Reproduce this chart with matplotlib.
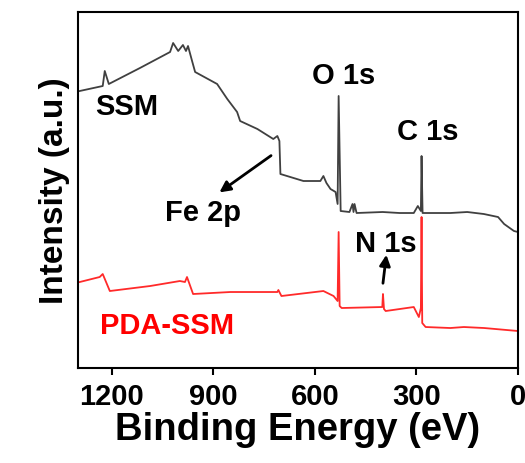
import matplotlib
matplotlib.use('Agg')
import matplotlib.pyplot as plt

plt.rcParams['font.family'] = ['Liberation Sans', 'DejaVu Sans']
plt.rcParams['font.weight'] = 'bold'

# XPS survey, SSM
e_ssm = [1295, 1227, 1221, 1209, 1117, 1028, 1019, 1004, 990, 981, 975, 963, 954,
         889, 859, 830, 821, 770, 723, 711, 705, 702, 634, 584, 575, 566, 554, 539,
         533, 530, 524, 498, 489, 486, 483, 477, 400, 350, 308, 296, 287, 285, 282,
         200, 150, 101, 59, 41, 12, 0]
i_ssm = [277, 282, 297, 284, 300, 316, 325, 317, 323, 317, 322, 307, 296,
         284, 269, 256, 247, 239, 229, 232, 227, 194, 187, 187, 192, 185, 179, 176,
         164, 272, 157, 156, 164, 156, 164, 155, 156, 155, 155, 162, 157, 212, 155,
         155, 156, 154, 151, 144, 137, 136]

# XPS survey, PDA-SSM
e_pda = [1295, 1236, 1227, 1206, 1087, 999, 984, 978, 960, 850, 711, 708, 699,
         575, 545, 533, 530, 527, 521, 401, 399, 396, 391, 308, 293, 287, 285, 283,
         273, 200, 160, 100, 0]
i_pda = [86, 91, 94, 77, 82, 87, 86, 91, 74, 76, 76, 78, 72,
         77, 72, 67, 136, 62, 60, 61, 74, 59, 57, 61, 51, 60, 151, 45,
         41, 40, 41, 40, 37]

fig = plt.figure(figsize=(5.25, 4.64), dpi=100)
ax = fig.add_axes([0.1486, 0.2047, 0.8381, 0.7673])

ax.plot(e_ssm, i_ssm, color='#404040', lw=1.3)
ax.plot(e_pda, i_pda, color='#ff2a2a', lw=1.3)

ax.set_xlim(1300, 0)
ax.set_ylim(0, 356)
ax.set_xticks([1200, 900, 600, 300, 0])
ax.set_yticks([])
ax.tick_params(axis='x', direction='out', length=5, width=1.5, pad=5, labelsize=21)
for s in ax.spines.values():
    s.set_linewidth(1.5)

ax.set_xlabel('Binding Energy (eV)', fontsize=27.5, fontweight='bold', labelpad=1)
ax.set_ylabel('Intensity (a.u.)', fontsize=24, fontweight='bold', labelpad=6)

kw = dict(fontsize=21, fontweight='bold', ha='center', va='center')
ax.text(1156, 262, 'SSM', **kw)
ax.text(930, 156, 'Fe 2p', **kw)
ax.text(516, 293, 'O 1s', **kw)
ax.text(267, 237, 'C 1s', **kw)
ax.text(391, 125, 'N 1s', **kw)
ax.text(1037, 43, 'PDA-SSM', color='#ff0000', **kw)

arr = dict(arrowstyle='-|>', color='black', lw=2, mutation_scale=16)
ax.annotate('', xy=(889, 174), xytext=(723, 214), arrowprops=arr)
ax.annotate('', xy=(388, 116), xytext=(400, 82), arrowprops=arr)

fig.savefig('out.png', dpi=100)
